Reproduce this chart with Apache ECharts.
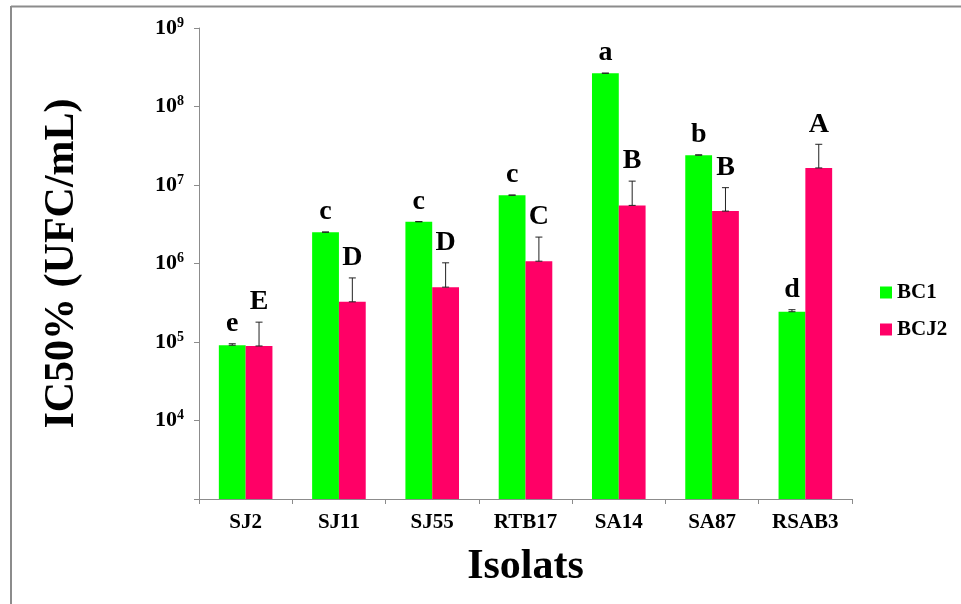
<!DOCTYPE html>
<html>
<head>
<meta charset="utf-8">
<script src="https://cdn.jsdelivr.net/npm/echarts@6/dist/echarts.min.js"></script>
<style>html,body{margin:0;padding:0;background:#fff}#c{width:961px;height:604px}</style>
</head>
<body>
<div id="c"></div>
<script>
const categories = ['SJ2', 'SJ11', 'SJ55', 'RTB17', 'SA14', 'SA87', 'RSAB3'];
const seriesNames = ['BC1', 'BCJ2'];
const bc1Values = [9.1e4, 2.5e6, 3.4e6, 7.4e6, 2.65e8, 2.4e7, 2.43e5];
const bc1Errors = [4e3, 2e4, 2e4, 5e4, 1e6, 2e5, 1.5e4];
const bcj2Values = [8.9e4, 3.25e5, 5.0e5, 1.07e6, 5.5e6, 4.65e6, 1.65e7];
const bcj2Errors = [9.0e4, 3.3e5, 5.2e5, 1.1e6, 5.7e6, 4.6e6, 1.65e7];
const bc1Letters = ['e', 'c', 'c', 'c', 'a', 'b', 'd'];
const bcj2Letters = ['E', 'D', 'D', 'C', 'B', 'B', 'A'];
const yTicks = [1e3, 1e4, 1e5, 1e6, 1e7, 1e8, 1e9];

const FONT = '"Liberation Serif", "Times New Roman", serif';
const BAR_W = 26.8;

function errRender(values, errors, letters, offset) {
  return function (params, api) {
    const i = params.dataIndex;
    const base = api.coord([i, values[i]]);
    const top = api.coord([i, values[i] + errors[i]]);
    const x = base[0] + offset;
    const st = { stroke: '#222', lineWidth: 1 };
    return {
      type: 'group',
      children: [
        { type: 'line', shape: { x1: x, y1: base[1], x2: x, y2: top[1] }, style: st },
        { type: 'line', shape: { x1: x - 3.5, y1: top[1], x2: x + 3.5, y2: top[1] }, style: st },
        { type: 'line', shape: { x1: x - 3.5, y1: base[1], x2: x + 3.5, y2: base[1] }, style: st },
        { type: 'text', style: { x: x, y: top[1] - 6, text: letters[i], font: 'bold 28px ' + FONT, fill: '#000', align: 'center', verticalAlign: 'bottom' } }
      ]
    };
  };
}

const chart = echarts.init(document.getElementById('c'), null, { renderer: 'canvas' });
chart.setOption({
  backgroundColor: '#fff',
  animation: false,
  graphic: [
    { type: 'line', shape: { x1: 11, y1: 6.5, x2: 961, y2: 6.5 }, style: { stroke: '#8c8c8c', lineWidth: 2 } },
    { type: 'line', shape: { x1: 11, y1: 6, x2: 11, y2: 604 }, style: { stroke: '#8c8c8c', lineWidth: 2 } }
  ],
  grid: { left: 199, top: 28, width: 653, height: 471, containLabel: false },
  legend: {
    data: seriesNames,
    orient: 'vertical',
    left: 875,
    top: 277,
    icon: 'rect',
    itemWidth: 12,
    itemHeight: 12,
    itemGap: 16,
    textStyle: { fontFamily: FONT, fontWeight: 'bold', fontSize: 21, color: '#000' }
  },
  xAxis: {
    type: 'category',
    data: categories,
    name: 'Isolats',
    nameLocation: 'middle',
    nameGap: 47,
    nameTextStyle: { fontFamily: FONT, fontWeight: 'bold', fontSize: 42, color: '#000' },
    axisLine: { lineStyle: { color: '#8c8c8c', width: 1 } },
    axisTick: { show: true, length: 5, lineStyle: { color: '#8c8c8c' } },
    axisLabel: { margin: 13, fontFamily: FONT, fontWeight: 'bold', fontSize: 21, color: '#000' }
  },
  yAxis: {
    type: 'log',
    logBase: 10,
    min: yTicks[0],
    max: yTicks[yTicks.length - 1],
    name: 'IC50% (UFC/mL)',
    nameLocation: 'middle',
    nameGap: 116,
    nameTextStyle: { fontFamily: FONT, fontWeight: 'bold', fontSize: 42, color: '#000' },
    splitLine: { show: false },
    axisLine: { show: true, lineStyle: { color: '#8c8c8c', width: 1 } },
    axisTick: { show: true, length: 5, lineStyle: { color: '#8c8c8c' } },
    axisLabel: {
      margin: 15,
      formatter: function (v) {
        const e = Math.round(Math.log10(v));
        if (e === 3) return '';
        return '{b|10}{s|' + e + '}';
      },
      rich: {
        b: { fontFamily: FONT, fontWeight: 'bold', fontSize: 22, color: '#000', lineHeight: 24 },
        s: { fontFamily: FONT, fontWeight: 'bold', fontSize: 14, color: '#000', lineHeight: 14, padding: [0, 0, 10, 0] }
      }
    }
  },
  series: [
    { name: seriesNames[0], type: 'bar', data: bc1Values, barWidth: BAR_W, barGap: '0%', itemStyle: { color: '#00FF00' }, clip: true },
    { name: seriesNames[1], type: 'bar', data: bcj2Values, barWidth: BAR_W, barGap: '0%', itemStyle: { color: '#FF0066' }, clip: true },
    { type: 'custom', name: 'err1', data: bc1Values.map((v, i) => [i, v]), renderItem: errRender(bc1Values, bc1Errors, bc1Letters, -BAR_W / 2), z: 5, silent: true },
    { type: 'custom', name: 'err2', data: bcj2Values.map((v, i) => [i, v]), renderItem: errRender(bcj2Values, bcj2Errors, bcj2Letters, BAR_W / 2), z: 5, silent: true }
  ]
});
</script>
</body>
</html>
